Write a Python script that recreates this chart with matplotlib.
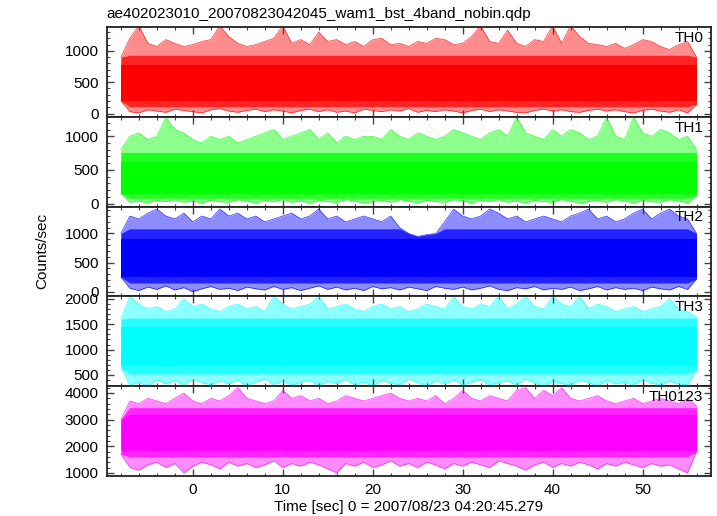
import numpy as np
import matplotlib.pyplot as plt
from matplotlib.ticker import MultipleLocator

plt.rcParams['font.family'] = ['Liberation Sans', 'DejaVu Sans']

# time grid of the light curve [sec], 1 s steps
time_sec = list(range(-8, 57))

bands = ['TH0', 'TH1', 'TH2', 'TH3', 'TH0123']
colors = ['#ff0000', '#00ff00', '#0000ff', '#00ffff', '#ff00ff']

# spike envelopes (counts/sec), one value per second
th0_upper = [900, 1200, 1400, 1120, 1070, 1180, 1120, 1070, 1100, 1150,
             1180, 1400, 1230, 1120, 1070, 1100, 1150, 1200, 1400, 1120,
             1180, 1100, 1300, 1150, 1180, 1100, 1150, 1070, 1180, 1200,
             1100, 1120, 1070, 1150, 1120, 1200, 1180, 1100, 1120, 1230,
             1400, 1150, 1120, 1330, 1120, 1070, 1180, 1150, 1400, 1120,
             1400, 1230, 1120, 1100, 1070, 1120, 1040, 1100, 1180, 1150,
             1070, 1020, 1100, 1150, 900]
th0_lower = [200, 30, 10, 60, 40, 20, 70, 50, 30, 10,
             60, 80, 40, 20, 50, 70, 30, 60, 40, 10,
             50, 70, 30, 60, 20, 40, 10, 70, 50, 30,
             60, 40, 80, 20, 50, 30, 60, 40, 10, 50,
             70, 30, 60, 40, 20, 10, 50, 70, 40, 60,
             30, 20, 50, 70, 40, 60, 30, 10, 50, 70,
             40, 20, 60, 10, 150]

th1_upper = [800, 1000, 1050, 950, 1000, 1280, 1100, 1050, 950, 900,
             1000, 950, 1000, 900, 950, 1000, 1050, 1100, 950, 1000,
             1050, 1100, 950, 1050, 900, 1000, 950, 1000, 1000, 950,
             1100, 1000, 950, 1050, 1000, 950, 1000, 1100, 1050, 1000,
             950, 1050, 1100, 1000, 1280, 1050, 1000, 950, 1100, 1000,
             1100, 1050, 950, 1000, 1280, 1000, 950, 1280, 1050, 1000,
             1100, 1050, 950, 1000, 800]
th1_lower = [150, 20, 40, 10, 50, 30, 60, 20, 40, 10,
             50, 30, 20, 60, 40, 10, 50, 30, 60, 20,
             40, 10, 50, 30, 20, 60, 40, 10, 30, 50,
             20, 60, 40, 10, 50, 30, 20, 60, 40, 10,
             50, 30, 60, 20, 40, 10, 50, 30, 20, 60,
             40, 10, 30, 50, 20, 60, 40, 10, 50, 30,
             20, 60, 40, 10, 120]

th2_upper = [1000, 1300, 1250, 1350, 1420, 1300, 1250, 1350, 1200, 1300,
             1250, 1420, 1300, 1350, 1250, 1300, 1200, 1250, 1300, 1350,
             1250, 1300, 1420, 1250, 1300, 1200, 1250, 1300, 1250, 1200,
             1300, 1100, 1000, 950, 980, 1000, 1200, 1420, 1300, 1250,
             1300, 1420, 1350, 1250, 1300, 1200, 1250, 1300, 1250, 1200,
             1300, 1350, 1420, 1250, 1300, 1200, 1250, 1350, 1420, 1250,
             1350, 1420, 1300, 1250, 1000]
th2_lower = [250, 60, 20, 80, 40, 100, 30, 70, 0, 50,
             90, 40, 60, 20, 80, 50, 30, 90, 40, 70,
             20, 60, 100, 40, 80, 30, 60, 20, 90, 50,
             70, 30, 80, 50, 20, 90, 60, 40, 80, 30,
             60, 100, 40, 20, 70, 50, 90, 30, 60, 40,
             80, 20, 50, 90, 30, 70, 40, 60, 20, 80,
             50, 30, 90, 40, 220]

th3_upper = [1600, 2050, 1900, 1800, 1850, 1750, 1800, 2000, 1850, 1900,
             1800, 1750, 1850, 1900, 1800, 1850, 1750, 2050, 1900, 1800,
             1850, 1900, 2050, 1800, 1850, 1900, 1800, 1750, 1850, 1900,
             1800, 1850, 1750, 1800, 1900, 1850, 1800, 2050, 1850, 1800,
             1900, 1850, 2050, 1800, 1900, 2050, 1850, 1800, 2050, 1900,
             1850, 2050, 1800, 1900, 1850, 1750, 1800, 1850, 1750, 1800,
             1850, 2000, 1800, 1750, 1650]
th3_lower = [650, 300, 350, 280, 400, 320, 380, 300, 420, 350,
             300, 380, 330, 400, 280, 360, 420, 310, 380, 300,
             350, 400, 290, 370, 330, 410, 300, 360, 280, 390,
             340, 300, 420, 350, 280, 380, 330, 400, 300, 360,
             410, 290, 350, 380, 300, 420, 340, 280, 370, 330,
             300, 400, 350, 280, 390, 320, 360, 300, 410, 340,
             290, 380, 320, 300, 600]

th0123_upper = [3000, 3700, 3600, 3800, 3700, 3600, 3800, 4000, 3700, 3600,
                3800, 3700, 3900, 4200, 3800, 3700, 3600, 3700, 4100, 3800,
                3900, 3700, 3800, 3600, 3700, 3900, 3800, 3700, 3800, 3900,
                4000, 3800, 3700, 3800, 3700, 3900, 3600, 3800, 4100, 3800,
                3700, 3900, 3800, 3700, 4100, 4200, 3800, 4100, 3900, 4200,
                3800, 3700, 3800, 3900, 3700, 3600, 3700, 3800, 3600, 3700,
                3800, 3700, 3600, 3800, 3500]
th0123_lower = [1700, 1200, 1100, 1300, 1400, 1200, 1350, 1000, 1250, 1400,
                1300, 1150, 1400, 1250, 1350, 1200, 1300, 1450, 1200, 1350,
                1250, 1400, 1300, 1150, 1000, 1350, 1250, 1400, 1200, 1300,
                1450, 1250, 1350, 1200, 1400, 1300, 1150, 1350, 1250, 1400,
                1300, 1200, 1450, 1350, 1250, 1100, 1300, 1400, 1200, 1350,
                1250, 1400, 1300, 1150, 1350, 1250, 1400, 1300, 1200, 1350,
                1250, 1300, 1150, 1000, 1800]

# solid core of each light curve and the mostly filled band around it
core_lo = [200, 150, 260, 680, 1850]
core_hi = [780, 620, 900, 1450, 3200]
mid_lo = [110, 80, 150, 520, 1600]
mid_hi = [930, 760, 1080, 1620, 3450]

uppers = [th0_upper, th1_upper, th2_upper, th3_upper, th0123_upper]
lowers = [th0_lower, th1_lower, th2_lower, th3_lower, th0123_lower]

ylims = [(-55, 1375), (-45, 1285), (-80, 1460), (280, 2050), (890, 4260)]
ymajor = [500, 500, 500, 500, 1000]
yminor = [100, 100, 100, 100, 200]

fig = plt.figure(figsize=(7.17, 5.16), dpi=100)
gs = fig.add_gridspec(5, 1, left=0.149, right=0.991, bottom=0.078, top=0.947, hspace=0)

t = np.array(time_sec)
for i in range(5):
    ax = fig.add_subplot(gs[i])
    c = colors[i]
    up = np.array(uppers[i])
    lo = np.array(lowers[i])
    # sparse spikes
    ax.fill_between(t, lo, up, color=c, alpha=0.45, lw=0)
    ax.plot(t, up, color=c, lw=0.5, alpha=0.8)
    ax.plot(t, lo, color=c, lw=0.5, alpha=0.8)
    # denser part, kept inside the spike envelope
    ax.fill_between(t, np.maximum(lo, mid_lo[i]), np.minimum(up, mid_hi[i]),
                    color=c, alpha=0.75, lw=0)
    ax.fill_between(t, np.maximum(lo, core_lo[i]), np.minimum(up, core_hi[i]),
                    color=c, lw=0)

    ax.set_xlim(-9.56, 57.56)
    ax.set_ylim(*ylims[i])
    ax.xaxis.set_major_locator(MultipleLocator(10))
    ax.xaxis.set_minor_locator(MultipleLocator(2))
    ax.yaxis.set_major_locator(MultipleLocator(ymajor[i]))
    ax.yaxis.set_minor_locator(MultipleLocator(yminor[i]))
    ax.tick_params(which='both', direction='in', top=True, right=True,
                   labelsize=11, color='#444444')
    ax.tick_params(which='major', length=5, width=1)
    ax.tick_params(which='minor', length=2.5, width=0.8)
    ax.tick_params(axis='y', pad=6)
    ax.tick_params(axis='x', pad=5)
    for sp in ax.spines.values():
        sp.set_linewidth(1.3)
        sp.set_color('#222222')
    if i < 4:
        ax.tick_params(labelbottom=False)
    ax.text(0.988, 0.88, bands[i], transform=ax.transAxes, ha='right', va='center',
            fontsize=11, zorder=5)

fig.text(0.149, 1 - 14 / 516, 'ae402023010_20070823042045_wam1_bst_4band_nobin.qdp',
         ha='left', va='center', fontsize=11)
fig.text(42 / 717, 1 - 251 / 516, 'Counts/sec', rotation=90, ha='center', va='center',
         fontsize=11)
fig.text(409 / 717, 1 - 507 / 516, 'Time [sec] 0 = 2007/08/23 04:20:45.279',
         ha='center', va='center', fontsize=11)

fig.savefig('out.png', dpi=100)
